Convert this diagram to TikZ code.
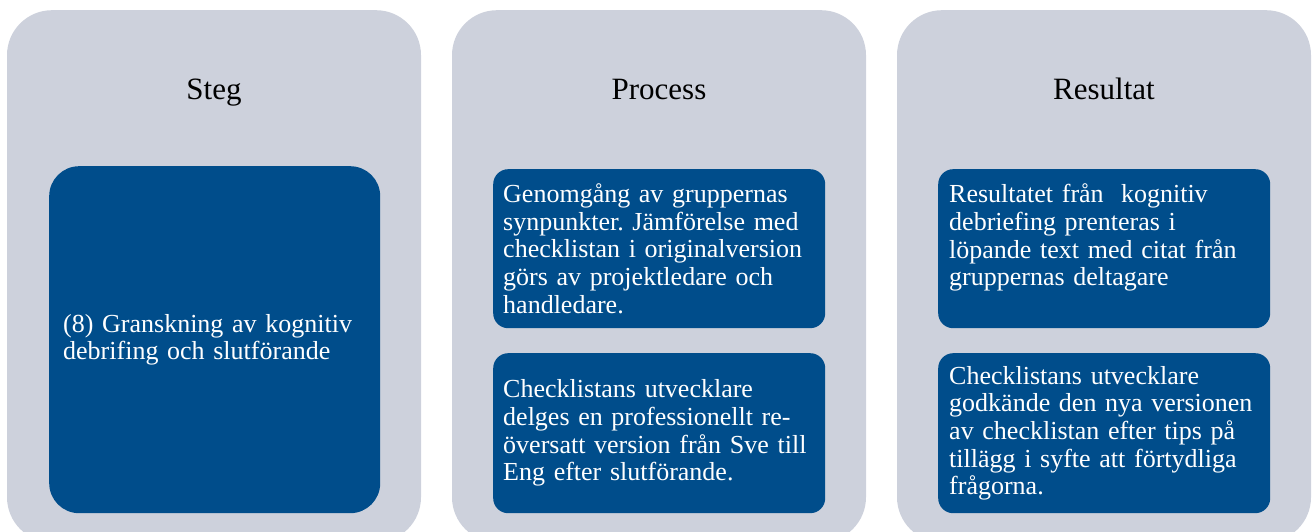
\documentclass[tikz,border=0pt]{standalone}
\usepackage{fontspec}
\setmainfont{Liberation Serif}
\usepackage{tikz}
\usetikzlibrary{positioning}

\definecolor{colgray}{RGB}{205,209,220}
\definecolor{boxblue}{RGB}{0,77,139}
\frenchspacing

\begin{document}
\begin{tikzpicture}[x=1pt,y=-1pt]
		\tikzset{column/.style = {fill=colgray,rounded corners=45pt,minimum width=414pt,minimum height=532pt,anchor=north,inner sep=0pt}}
		\tikzset{heading/.style = {font=\fontsize{31}{36}\selectfont,inner sep=0pt,anchor=base}}
		\tikzset{bluebox/.style = {fill=boxblue,text=white,rounded corners=15pt,anchor=north west,align=left,
				font=\fontsize{26}{27.7}\selectfont,inner ysep=4pt}}
			\useasboundingbox (0,0) rectangle (1314,532);
			\clip (0,0) rectangle (1314,532);
			% columns
			\node[column] (c1) at (214,10) {};
			\node[column] (c2) at (659,10) {};
			\node[column] (c3) at (1104,10) {};
			\node[heading] (h1) at (214,100) {Steg};
			\node[heading] (h2) at (659,100) {Process};
			\node[heading] (h3) at (1104,100) {Resultat};
			% Steg
			\node[bluebox,rounded corners=30pt,minimum width=331pt,minimum height=347pt,inner xsep=14pt,text width=303pt] (s1) at (49,166)
				{(8) Granskning av kognitiv\\debrifing och slutförande};
			% Process
			\node[bluebox,minimum width=332pt,minimum height=159pt,inner xsep=10pt,text width=312pt] (p1) at (493,169)
				{Genomgång av gruppernas\\synpunkter. Jämförelse med\\checklistan i originalversion\\görs av projektledare och\\handledare.};
			\node[bluebox,minimum width=332pt,minimum height=160pt,inner xsep=10pt,text width=312pt] (p2) at (493,353)
				{Checklistans utvecklare\\delges en professionellt re-\\översatt version från Sve till\\Eng efter slutförande.};
			% Resultat
			\node[bluebox,minimum width=332pt,minimum height=159pt,inner xsep=11pt,text width=310pt] (r1) at (938,169)
				{Resultatet från\ \ kognitiv\\debriefing prenteras i\\löpande text med citat från\\gruppernas deltagare\\\mbox{}};
			\node[bluebox,minimum width=332pt,minimum height=160pt,inner xsep=11pt,text width=310pt] (r2) at (938,353)
				{Checklistans utvecklare\\godkände den nya versionen\\av checklistan efter tips på\\tillägg i syfte att förtydliga\\frågorna.};
		\end{tikzpicture}
\end{document}
